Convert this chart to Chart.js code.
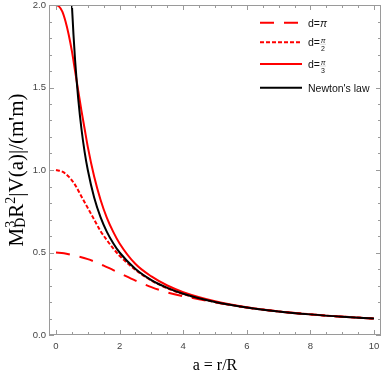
<!DOCTYPE html>
<html>
<head>
<meta charset="utf-8">
<script src="https://cdn.jsdelivr.net/npm/chart.js@4.4.0/dist/chart.umd.min.js"></script>
<style>
  html, body { margin: 0; padding: 0; background: #fff; }
  #wrap { width: 382px; height: 377px; }
</style>
</head>
<body>
<div id="wrap"><canvas id="chart" width="382" height="377"></canvas></div>
<script>
/* ============================================================
   |V(a)| vs a = r/R  (d = pi, pi/2, pi/3 and Newton's law)
   ============================================================ */

// ---- data ----
const aDPi = [0, 0.25, 0.5, 1, 1.5, 2, 2.5, 3, 3.5, 4, 4.5, 5, 6, 7, 8, 9, 10];
const vDPi = [0.5, 0.496, 0.485, 0.46, 0.42, 0.375, 0.33, 0.29, 0.258, 0.235, 0.217, 0.198, 0.166, 0.143, 0.125, 0.111, 0.1];

const aDPi2 = [0, 0.2, 0.4, 0.6, 0.8, 1.0, 1.2, 1.4, 1.6, 1.8, 2.0, 2.5, 3, 3.5, 4, 5, 6, 7, 8, 9, 10];
const vDPi2 = [1.0, 0.99, 0.96, 0.91, 0.84, 0.77, 0.70, 0.63, 0.575, 0.525, 0.48, 0.395, 0.33, 0.283, 0.248, 0.2, 0.167, 0.143, 0.125, 0.111, 0.1];

const aDPi3 = [0, 0.1, 0.2, 0.3, 0.4, 0.5, 0.6, 0.7, 0.8, 0.9, 1.0, 1.2, 1.4, 1.6, 1.8, 2.0, 2.5, 3, 3.5, 4, 5, 6, 7, 8, 9, 10];
const vDPi3 = [2.0, 1.99, 1.96, 1.9, 1.82, 1.72, 1.6, 1.48, 1.36, 1.25, 1.14, 0.96, 0.82, 0.71, 0.625, 0.555, 0.43, 0.355, 0.3, 0.26, 0.205, 0.168, 0.143, 0.125, 0.111, 0.1];

const aNewton = [0.5, 0.55, 0.6, 0.65, 0.7, 0.8, 0.9, 1.0, 1.2, 1.4, 1.6, 1.8, 2, 2.5, 3, 3.5, 4, 5, 6, 7, 8, 9, 10];
const vNewton = [2.0, 1.82, 1.667, 1.54, 1.43, 1.25, 1.11, 1.0, 0.833, 0.714, 0.625, 0.556, 0.5, 0.4, 0.333, 0.286, 0.25, 0.2, 0.167, 0.143, 0.125, 0.111, 0.1];

const xTickLabels = [0, 2, 4, 6, 8, 10];
const yTickLabels = [0, 0.5, 1, 1.5, 2];

(function () {
  'use strict';

  const RED = '#ff0000';
  const FRAME = '#9a9a9a';
  const SERIF = '"Liberation Serif", "DejaVu Serif", serif';
  const SANS = '"Liberation Sans", Arial, sans-serif';

  function toPoints(xs, ys) {
    return xs.map(function (x, i) { return { x: x, y: ys[i] }; });
  }

  function curve(xs, ys, color, dash, order) {
    return {
      data: toPoints(xs, ys),
      showLine: true,
      borderColor: color,
      borderWidth: 2,
      borderDash: dash,
      pointRadius: 0,
      cubicInterpolationMode: 'monotone',
      fill: false,
      order: order,
    };
  }

  // ============ frame + inward ticks (Mathematica style) ============
  const frameTicks = {
    id: 'frameTicks',
    afterDatasetsDraw: function (chart) {
      const ctx = chart.ctx;
      const a = chart.chartArea;
      const xs = chart.scales.x;
      const ys = chart.scales.y;
      ctx.save();
      ctx.strokeStyle = FRAME;
      ctx.lineWidth = 1;
      ctx.strokeRect(a.left + 0.5, a.top + 0.5, a.right - a.left - 1, a.bottom - a.top - 1);

      ctx.beginPath();
      for (let i = 0; i <= 20; i++) {
        const v = i * 0.5;
        const len = xTickLabels.indexOf(v) >= 0 ? 5 : 3;
        const px = Math.round(xs.getPixelForValue(v)) + 0.5;
        ctx.moveTo(px, a.bottom); ctx.lineTo(px, a.bottom - len);
        ctx.moveTo(px, a.top); ctx.lineTo(px, a.top + len);
      }
      for (let i = 0; i <= 20; i++) {
        const v = i / 10;
        const len = i % 5 === 0 ? 5 : 3;
        const py = Math.round(ys.getPixelForValue(v)) + 0.5;
        ctx.moveTo(a.left, py); ctx.lineTo(a.left + len, py);
        ctx.moveTo(a.right, py); ctx.lineTo(a.right - len, py);
      }
      ctx.stroke();
      ctx.restore();
    },
  };

  // ============ axis titles ============
  function drawRuns(ctx, runs, x0, y0, paint) {
    let x = x0;
    runs.forEach(function (r) {
      ctx.font = r.size + 'px ' + SERIF;
      if (r.stack) {
        if (paint) {
          ctx.fillText(r.sup, x, y0 - 8);
          ctx.fillText(r.sub, x, y0 + 2);
        }
        x += Math.max(ctx.measureText(r.sup).width, ctx.measureText(r.sub).width);
      } else if (r.sup) {
        if (paint) ctx.fillText(r.sup, x, y0 - 8);
        x += ctx.measureText(r.sup).width;
      } else {
        if (paint) ctx.fillText(r.text, x, y0);
        x += ctx.measureText(r.text).width;
      }
    });
    return x - x0;
  }

  const titles = {
    id: 'titles',
    afterDraw: function (chart) {
      const ctx = chart.ctx;
      const a = chart.chartArea;
      ctx.save();
      ctx.fillStyle = '#000';
      ctx.textAlign = 'left';
      ctx.textBaseline = 'alphabetic';

      // y title, rotated
      const runs = [
        { text: 'M', size: 21 },
        { stack: true, sup: '3', sub: 'D', size: 14 },
        { text: 'R', size: 21 },
        { sup: '2', size: 14 },
        { text: '|V(a)|/(m\'m)', size: 21 },
      ];
      ctx.save();
      ctx.translate(22.5, (a.top + a.bottom) / 2);
      ctx.rotate(-Math.PI / 2);
      const w = drawRuns(ctx, runs, 0, 0, false);
      drawRuns(ctx, runs, -w / 2, 0, true);
      ctx.restore();

      // x title
      ctx.font = '16px ' + SERIF;
      ctx.textAlign = 'center';
      ctx.fillText('a = r/R', (a.left + a.right) / 2, 370);
      ctx.restore();
    },
  };

  // ============ legend (top right, inside frame) ============
  const legendItems = [
    { color: RED, dash: [14, 10], label: 'd=', frac: null, y: 22.7 },
    { color: RED, dash: [4, 2], label: 'd=', frac: '2', y: 42.3 },
    { color: RED, dash: [], label: 'd=', frac: '3', y: 64 },
    { color: '#000', dash: [], label: 'Newton\'s law', frac: null, y: 87.7 },
  ];

  const legend = {
    id: 'customLegend',
    afterDraw: function (chart) {
      const ctx = chart.ctx;
      ctx.save();
      legendItems.forEach(function (it, i) {
        ctx.strokeStyle = it.color;
        ctx.lineWidth = 2;
        ctx.setLineDash(it.dash);
        ctx.beginPath();
        ctx.moveTo(260, it.y);
        ctx.lineTo(302, it.y);
        ctx.stroke();
        ctx.setLineDash([]);

        ctx.fillStyle = '#111';
        ctx.textAlign = 'left';
        ctx.font = '10.5px ' + SANS;
        const base = it.y + 3.8;
        ctx.fillText(it.label, 308, base);
        if (i === 0) {
          const w = ctx.measureText(it.label).width;
          ctx.font = 'italic 10.5px ' + SANS;
          ctx.fillText('\u03c0', 308 + w, base);
        } else if (it.frac) {
          const w = ctx.measureText(it.label).width;
          const cx = 308 + w + 3;
          ctx.font = 'italic 7px ' + SANS;
          ctx.textAlign = 'center';
          ctx.fillText('\u03c0', cx, it.y + 0.5);
          ctx.font = '7px ' + SANS;
          ctx.fillText(it.frac, cx, it.y + 8.5);
          ctx.strokeStyle = '#bbb';
          ctx.lineWidth = 0.5;
          ctx.beginPath();
          ctx.moveTo(cx - 3, it.y + 2);
          ctx.lineTo(cx + 3, it.y + 2);
          ctx.stroke();
        }
      });
      ctx.restore();
    },
  };

  // ============ chart ============
  const ctx = document.querySelector('#chart').getContext('2d');

  new Chart(ctx, {
    type: 'scatter',
    data: {
      datasets: [
        curve(aDPi, vDPi, RED, [14, 10], 4),
        curve(aDPi2, vDPi2, RED, [4, 2], 3),
        curve(aDPi3, vDPi3, RED, [], 2),
        curve(aNewton, vNewton, '#000', [], 1),
      ],
    },
    options: {
      responsive: false,
      animation: false,
      layout: { padding: { left: 0, right: 1, top: 5, bottom: 0 } },
      plugins: {
        legend: { display: false },
        tooltip: { enabled: false },
      },
      scales: {
        x: {
          type: 'linear',
          min: -0.22,
          max: 10.22,
          grid: { display: false, drawTicks: false },
          border: { display: false },
          afterBuildTicks: function (scale) {
            scale.ticks = xTickLabels.map(function (v) { return { value: v }; });
          },
          afterFit: function (scale) {
            // keep the frame fixed, labels may overhang
            scale.height = 42;
            scale.paddingLeft = 0;
            scale.paddingRight = 0;
          },
          ticks: {
            padding: 6,
            color: '#444',
            font: { family: SANS, size: 9.5 },
            maxRotation: 0,
            callback: function (v) { return String(v); },
          },
        },
        y: {
          type: 'linear',
          min: 0,
          max: 2,
          grid: { display: false, drawTicks: false },
          border: { display: false },
          afterBuildTicks: function (scale) {
            scale.ticks = yTickLabels.map(function (v) { return { value: v }; });
          },
          afterFit: function (scale) {
            scale.width = 49;
            scale.paddingTop = 0;
            scale.paddingBottom = 0;
          },
          ticks: {
            padding: 3,
            color: '#444',
            font: { family: SANS, size: 9.5 },
            callback: function (v) { return Number(v).toFixed(1); },
          },
        },
      },
    },
    plugins: [frameTicks, titles, legend],
  });
})();
</script>
</body>
</html>
